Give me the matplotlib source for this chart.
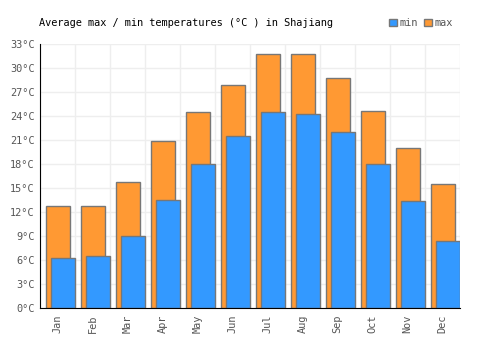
import matplotlib
matplotlib.use("Agg")
import matplotlib.pyplot as plt
import numpy as np

months = ["Jan", "Feb", "Mar", "Apr", "May", "Jun", "Jul", "Aug", "Sep", "Oct", "Nov", "Dec"]
max_temp = [12.8, 12.7, 15.8, 20.9, 24.5, 27.9, 31.7, 31.7, 28.8, 24.6, 20.0, 15.5]
min_temp = [6.2, 6.5, 9.0, 13.5, 18.0, 21.5, 24.5, 24.3, 22.0, 18.0, 13.4, 8.4]
yticks = list(range(0, 34, 3))

plt.rcParams['font.family'] = ['DejaVu Sans Mono']
fig = plt.figure(figsize=(5, 3.5), dpi=100)
ax = fig.add_axes([0.08, 0.12, 0.84, 0.754])

x = np.arange(len(months))
ax.bar(x + 18/35, max_temp, width=24/35, color="#ff9933", edgecolor="#777777", linewidth=1, zorder=2, label="max")
ax.bar(x + 23.3/35, min_temp, width=24/35, color="#3399ff", edgecolor="#777777", linewidth=1, zorder=3, label="min")

ax.set_xlim(0, 12)
ax.set_ylim(0, 33)
ax.set_yticks(yticks)
ax.set_yticklabels([f"{v}°C" for v in yticks], fontsize=7.4, color="#555555")
ax.set_xticks(x + 0.5)
ax.set_xticklabels(months, rotation=90, fontsize=7.4, color="#555555")
ax.tick_params(axis="x", which="both", length=0, pad=5)
ax.tick_params(axis="y", length=0, pad=4)
ax.grid(False)
for v in yticks:
    ax.axhline(v, color="#eeeeee", linewidth=1, zorder=0)
for v in range(13):
    ax.axvline(v, color="#eeeeee", linewidth=1, zorder=0)
for s in ["top", "right"]:
    ax.spines[s].set_visible(False)
ax.spines["left"].set_color("black")
ax.spines["bottom"].set_color("black")
ax.spines["left"].set_zorder(5)
ax.spines["bottom"].set_zorder(5)

fig.text(0.078, 0.934, "Average max / min temperatures (°C ) in Shajiang", fontsize=7.4, color="black", va="center", ha="left")

handles, labels = ax.get_legend_handles_labels()
leg = fig.legend([handles[1], handles[0]], ["min", "max"], loc="center right", bbox_to_anchor=(0.905, 0.934),
                 ncol=2, frameon=False, fontsize=7.4, handlelength=0.8, handleheight=0.8,
                 handletextpad=0.2, columnspacing=0.6, borderaxespad=0, borderpad=0)
for t in leg.get_texts():
    t.set_color("#555555")

fig.savefig("out.png", dpi=100)
